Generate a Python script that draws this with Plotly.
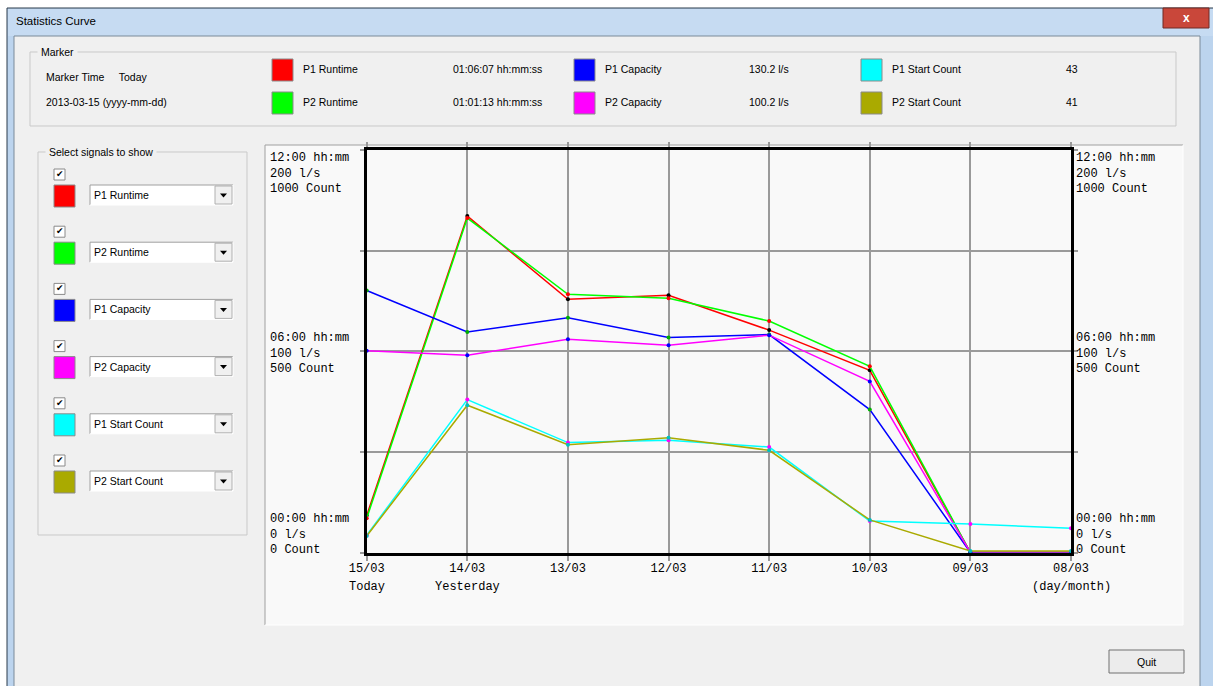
import plotly.graph_objects as go

W, H = 1213, 686

# ---- data ----
dates = ["15/03", "14/03", "13/03", "12/03", "11/03", "10/03", "09/03", "08/03"]
day_notes = {"15/03": "Today", "14/03": "Yesterday", "08/03": "(day/month)"}

p1_runtime_h = [1.10, 10.03, 7.55, 7.67, 6.63, 5.43, 0.0, 0.0]
p2_runtime_h = [1.02, 9.97, 7.70, 7.58, 6.90, 5.55, 0.0, 0.0]
p1_capacity = [130.2, 109.6, 116.6, 106.8, 108.3, 71.0, 0.0, 0.0]
p2_capacity = [100.2, 98.0, 106.0, 103.0, 108.0, 85.0, 0.0, 0.0]
p1_starts = [43, 380, 273, 279, 262, 78, 71, 60]
p2_starts = [41, 366, 268, 285, 254, 81, 4, 4]

# full scale of each unit (top of the chart)
full_runtime_h = 12
full_capacity = 200
full_count = 1000

left_labels = ["00:00 hh:mm<br>0 l/s<br>0 Count",
               "06:00 hh:mm<br>100 l/s<br>500 Count",
               "12:00 hh:mm<br>200 l/s<br>1000 Count"]

signals = ["P1 Runtime", "P2 Runtime", "P1 Capacity", "P2 Capacity",
           "P1 Start Count", "P2 Start Count"]
colors = ["#ff0000", "#00ff00", "#0000ff", "#ff00ff", "#00ffff", "#aaaa00"]
dot_colors = ["#000000", "#ff0000", "#00b000", "#0000ff", "#ff00ff", "#00c0c0"]
marker_values = ["01:06:07 hh:mm:ss", "01:01:13 hh:mm:ss", "130.2 l/s",
                 "100.2 l/s", "43", "41"]

series = [
    [v / full_runtime_h for v in p1_runtime_h],
    [v / full_runtime_h for v in p2_runtime_h],
    [v / full_capacity for v in p1_capacity],
    [v / full_capacity for v in p2_capacity],
    [v / full_count for v in p1_starts],
    [v / full_count for v in p2_starts],
]

UI = "Liberation Sans"
MONO = "Liberation Mono"


def px(x):
    return x / W


def py(y):
    return 1 - y / H


shapes = []
annots = []


def rect(x0, y0, x1, y1, fill=None, line=None, lw=1):
    shapes.append(dict(type="rect", xref="paper", yref="paper",
                       x0=px(x0), x1=px(x1), y0=py(y1), y1=py(y0),
                       fillcolor=fill or "rgba(0,0,0,0)",
                       line=dict(color=line or "rgba(0,0,0,0)", width=lw if line else 0),
                       layer="below"))


def seg(x0, y0, x1, y1, color, lw=1):
    shapes.append(dict(type="line", xref="paper", yref="paper",
                       x0=px(x0), x1=px(x1), y0=py(y0), y1=py(y1),
                       line=dict(color=color, width=lw), layer="below"))


def label(x, y, s, size=10.5, color="#000", anchor="left", font=UI, bg=None):
    annots.append(dict(xref="paper", yref="paper", x=px(x), y=py(y), text=s,
                       showarrow=False, xanchor=anchor, yanchor="middle",
                       font=dict(family=font, size=size, color=color),
                       bgcolor=bg, borderpad=0))


def sunken(x0, y0, x1, y1, fill):
    rect(x0, y0, x1, y1, fill=fill)
    seg(x0, y0, x1, y0, "#a0a0a0")
    seg(x0, y0, x0, y1, "#a0a0a0")
    seg(x0, y1, x1, y1, "#ffffff")
    seg(x1, y0, x1, y1, "#ffffff")


def swatch(x0, y0, color):
    rect(x0, y0, x0 + 21, y0 + 22, fill=color, line="#8a8a8a")


# ---- window frame ----
rect(7, 8, W + 2, H + 2, fill="#bcd4ee", line="#2b3a4a")
rect(8, 9, W, 36, fill="#c6dbf2")
rect(14, 36, 1200, H + 2, fill="#f0f0f0", line="#7b8a99")
label(15, 21, "Statistics Curve", size=11.5)
rect(1163, 8, 1209, 28, fill="#c9473a", line="#6e2a24")
label(1186, 18, "<b>x</b>", size=12, color="#ffffff", anchor="center")

# ---- marker group ----
rect(30, 52, 1176, 126, line="#c9c9c9")
label(37, 52, " Marker ", bg="#f0f0f0")
label(45, 77, "Marker Time     Today")
label(45, 102, "2013-03-15 (yyyy-mm-dd)")
cols = [(272, 302, 452), (574, 604, 748), (861, 891, 1065)]
for i, name in enumerate(signals):
    c = cols[i // 2]
    ry = 69 if i % 2 == 0 else 102
    swatch(c[0], ry - 10, colors[i])
    label(c[1], ry, name)
    label(c[2], ry, marker_values[i])

# ---- select-signals group ----
rect(38, 152, 247, 535, line="#c9c9c9")
label(45, 152, " Select signals to show ", bg="#f0f0f0")
for i, name in enumerate(signals):
    top = 169 + i * 57.2
    rect(54, top, 65, top + 11, fill="#ffffff", line="#8a8a8a")
    label(59.5, top + 5, "✔", size=9, anchor="center", font="DejaVu Sans")
    swatch(54, top + 16, colors[i])
    sunken(90, top + 16, 233, top + 36, "#ffffff")
    rect(215, top + 17, 232, top + 35, fill="#f0f0f0", line="#b0b0b0")
    cx, cy = 223.5, top + 26
    shapes.append(dict(type="path", xref="paper", yref="paper",
                       path=f"M {px(cx-3.5)},{py(cy-1.5)} L {px(cx+3.5)},{py(cy-1.5)} L {px(cx)},{py(cy+2.5)} Z",
                       fillcolor="#000", line=dict(width=0), layer="below"))
    label(93, top + 26, name)

# ---- chart panel ----
sunken(265, 145, 1183, 625, "#f9f9f9")

# ---- quit button ----
rect(1109, 650, 1184, 673, fill="#ececec", line="#707070")
label(1146.5, 661.5, "Quit", anchor="center")

fig = go.Figure()
for i, name in enumerate(signals):
    fig.add_trace(go.Scatter(
        x=dates, y=series[i], name=name, mode="lines+markers",
        line=dict(color=colors[i], width=1.5),
        marker=dict(color=dot_colors[i], size=4),
        cliponaxis=False, showlegend=False, hoverinfo="skip"))

# unit labels on both sides at 0, 6 h and 12 h
for side_x in (269, 1075):
    for val, lab, anc, sh in zip([0, 0.5, 1], left_labels,
                                 ["bottom", "middle", "top"], [-5, -2, 0]):
        annots.append(dict(xref="paper", yref="y", x=px(side_x), y=val,
                           text=lab, showarrow=False, xanchor="left", yanchor=anc,
                           align="left", borderpad=0, yshift=sh,
                           font=dict(family=MONO, size=12, color="#000")))

for d, note in day_notes.items():
    annots.append(dict(xref="x", yref="paper", x=d, y=py(587), text=note,
                       showarrow=False, xanchor="center", yanchor="middle",
                       font=dict(family=MONO, size=12, color="#000")))

axis_common = dict(showline=True, linecolor="#000", linewidth=3, mirror="ticks",
                   showgrid=True, gridcolor="#9a9a9a", gridwidth=2,
                   ticks="outside", tickcolor="#9a9a9a", tickwidth=2,
                   zeroline=False, fixedrange=True, automargin=False)

fig.update_layout(
    width=W, height=H,
    margin=dict(l=0, r=0, t=0, b=0, pad=0, autoexpand=False),
    paper_bgcolor="#ffffff", plot_bgcolor="#f9f9f9",
    xaxis=dict(domain=[px(366.7), px(1071)], type="category",
               categoryorder="array", categoryarray=dates, range=[0, 7],
               ticklen=5, ticklabelstandoff=-3,
               tickfont=dict(family=MONO, size=12, color="#000"), **axis_common),
    yaxis=dict(domain=[py(552.5), py(150)], range=[0, 1],
               tickvals=[0, 0.25, 0.5, 0.75, 1], showticklabels=False,
               ticklen=4, **axis_common),
    shapes=shapes, annotations=annots,
)

fig.write_html("out.html", config={"displayModeBar": False},
               post_script="document.body.style.margin='0';")
